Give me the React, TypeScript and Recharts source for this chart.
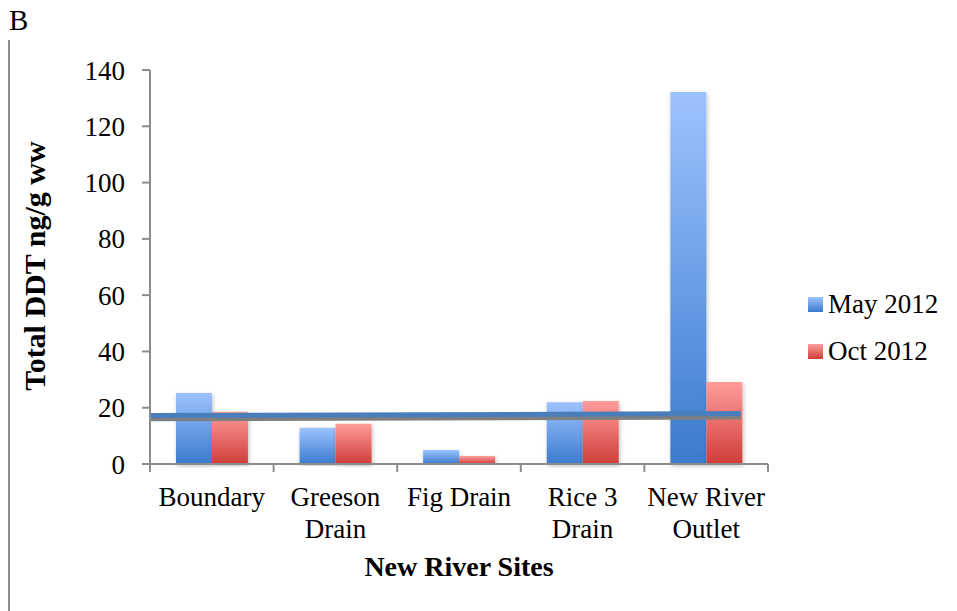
import React from 'react';
import { ComposedChart, Bar, XAxis, YAxis, ReferenceLine } from 'recharts';

const categories = ['Boundary', 'Greeson Drain', 'Fig Drain', 'Rice 3 Drain', 'New River Outlet'];
const tickLabelLines = [['Boundary'], ['Greeson', 'Drain'], ['Fig Drain'], ['Rice 3', 'Drain'], ['New River', 'Outlet']];
const may2012 = [25.2, 12.9, 5.0, 21.9, 132.2];
const oct2012 = [18.6, 14.3, 2.8, 22.4, 29.1];
const yTicks = [0, 20, 40, 60, 80, 100, 120, 140];
const boundaryTicks = [0, 1, 2, 3, 4, 5];
const trendPos = [0, 4.78];
const trendBlue = [17.2, 17.9];
const trendGrey = [15.9, 16.5];
const seriesNames = ['May 2012', 'Oct 2012'];

const data = categories.map((c, i) => ({ name: c, may: may2012[i], oct: oct2012[i] }));

const FONT = '"Liberation Serif", "Times New Roman", serif';
const AXIS = '#8c8c8c';

const CatTick = (props: any) => {
  const { x, y, index } = props;
  const lines = tickLabelLines[index] || [];
  return (
    <text x={x} y={y} textAnchor="middle" fontFamily={FONT} fontSize={27} fill="#000">
      {lines.map((l, i) => (
        <tspan key={i} x={x} dy={i === 0 ? 33 : 32}>{l}</tspan>
      ))}
    </text>
  );
};

export default function App() {
  return (
    <div style={{ position: 'absolute', left: 0, top: 0, width: 957, height: 611, background: '#fff', fontFamily: FONT, color: '#000' }}>
      <div style={{ position: 'absolute', left: 9, top: 2, fontSize: 29, lineHeight: '36px' }}>B</div>
      <div style={{ position: 'absolute', left: 8, top: 40, width: 2, height: 571, background: AXIS }} />
      <ComposedChart
        width={957}
        height={611}
        data={data}
        margin={{ top: 70, right: 189, bottom: 47, left: 0 }}
        barCategoryGap="21%"
        barGap={0}
      >
        <defs>
          <linearGradient id="gMay" x1="0" y1="0" x2="0" y2="1">
            <stop offset="0%" stopColor="#9dc3ff" />
            <stop offset="100%" stopColor="#3b7bcd" />
          </linearGradient>
          <linearGradient id="gOct" x1="0" y1="0" x2="0" y2="1">
            <stop offset="0%" stopColor="#ff9d9b" />
            <stop offset="100%" stopColor="#cf3d39" />
          </linearGradient>
          <filter id="sh" x="-20%" y="-5%" width="140%" height="110%">
            <feDropShadow dx="1" dy="2" stdDeviation="2" floodColor="#000" floodOpacity="0.25" />
          </filter>
        </defs>
        <XAxis
          xAxisId="axisB"
          dataKey="name"
          tick={<CatTick />}
          tickLine={false}
          axisLine={false}
          interval={0}
          height={99}
        />
        <XAxis
          xAxisId="axisA"
          dataKey="pos"
          type="number"
          domain={[0, 5]}
          ticks={boundaryTicks}
          interval={0}
          height={1}
          tickFormatter={() => ''}
          axisLine={{ stroke: AXIS, strokeWidth: 2 }}
          tickLine={{ stroke: AXIS, strokeWidth: 2 }}
          tickSize={8}
          allowDataOverflow
        />
        <YAxis
          width={150}
          domain={[0, 140]}
          ticks={yTicks}
          tick={{ fontFamily: FONT, fontSize: 27, fill: '#000' }}
          tickLine={{ stroke: AXIS, strokeWidth: 2 }}
          axisLine={{ stroke: AXIS, strokeWidth: 2 }}
          tickSize={8}
          tickMargin={17}
        />
        <Bar xAxisId="axisB" dataKey="may" name={seriesNames[0]} fill="url(#gMay)" isAnimationActive={false} filter="url(#sh)" />
        <Bar xAxisId="axisB" dataKey="oct" name={seriesNames[1]} fill="url(#gOct)" isAnimationActive={false} filter="url(#sh)" />
        <ReferenceLine
          xAxisId="axisA"
          segment={[{ x: trendPos[0], y: trendGrey[0] }, { x: trendPos[1], y: trendGrey[1] }]}
          stroke="#7f7f7f"
          strokeWidth={4}
          ifOverflow="visible"
        />
        <ReferenceLine
          xAxisId="axisA"
          segment={[{ x: trendPos[0], y: trendBlue[0] }, { x: trendPos[1], y: trendBlue[1] }]}
          stroke="#4a7ebb"
          strokeWidth={5}
          ifOverflow="visible"
        />
      </ComposedChart>
      <div style={{ position: 'absolute', left: 0, width: 918, top: 550, textAlign: 'center', fontSize: 28, fontWeight: 'bold', lineHeight: '34px' }}>New River Sites</div>
      <div style={{ position: 'absolute', left: 35 - 150, top: 266 - 18, width: 300, height: 36, textAlign: 'center', fontSize: 30, fontWeight: 'bold', lineHeight: '36px', transform: 'rotate(-90deg)' }}>Total DDT ng/g ww</div>
      <div style={{ position: 'absolute', left: 808, top: 281, fontSize: 27 }}>
        {seriesNames.map((n, i) => (
          <div key={n} style={{ display: 'flex', alignItems: 'center', height: 47 }}>
            <svg width={15} height={15} style={{ marginRight: 5 }}>
              <rect x={0} y={0} width={15} height={15} fill={i === 0 ? 'url(#gMay)' : 'url(#gOct)'} />
            </svg>
            <span>{n}</span>
          </div>
        ))}
      </div>
    </div>
  );
}
